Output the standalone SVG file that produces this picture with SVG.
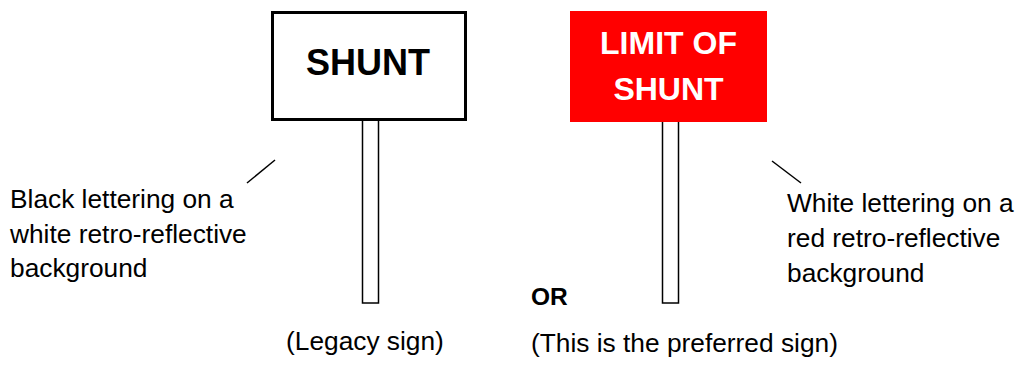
<svg xmlns="http://www.w3.org/2000/svg" width="1020" height="365" viewBox="0 0 1020 365">
<style>
.t{font-family:"Liberation Sans",Arial,sans-serif;font-size:26.3px;fill:#000}
.b{font-family:"Liberation Sans",Arial,sans-serif;font-weight:bold}
.post{fill:#fff;stroke:#000;stroke-width:1.5}
.lead{stroke:#000;stroke-width:1.5;fill:none}
</style>
<rect width="1020" height="365" fill="#fff"/>
<g id="legacy-sign">
<rect class="post" x="362.5" y="120" width="16" height="183"/>
<rect x="272.5" y="12.5" width="193" height="107" fill="#fff" stroke="#000" stroke-width="3"/>
<text class="b" x="368" y="75" font-size="36" text-anchor="middle">SHUNT</text>
</g>
<g id="preferred-sign">
<rect class="post" x="662.5" y="120" width="16" height="183"/>
<rect x="570" y="11" width="197" height="111" fill="#ff0000"/>
<text class="b" x="668.5" y="54" font-size="32" text-anchor="middle" fill="#fff">LIMIT OF</text>
<text class="b" x="668.5" y="100" font-size="32" text-anchor="middle" fill="#fff">SHUNT</text>
</g>
<g id="connectors">
<line class="lead" x1="247" y1="183" x2="275" y2="160"/>
<line class="lead" x1="772" y1="161" x2="801" y2="183"/>
</g>
<g id="label-left">
<text class="t" x="10" y="208">Black lettering on a</text>
<text class="t" x="10" y="243">white retro-reflective</text>
<text class="t" x="10" y="277">background</text>
</g>
<g id="label-right">
<text class="t" x="787" y="212">White lettering on a</text>
<text class="t" x="787" y="247">red retro-reflective</text>
<text class="t" x="787" y="282">background</text>
</g>
<g id="captions">
<text class="b" x="531" y="305" font-size="24.5">OR</text>
<text class="t" x="286" y="350">(Legacy sign)</text>
<text class="t" x="531" y="352">(This is the preferred sign)</text>
</g>
</svg>
